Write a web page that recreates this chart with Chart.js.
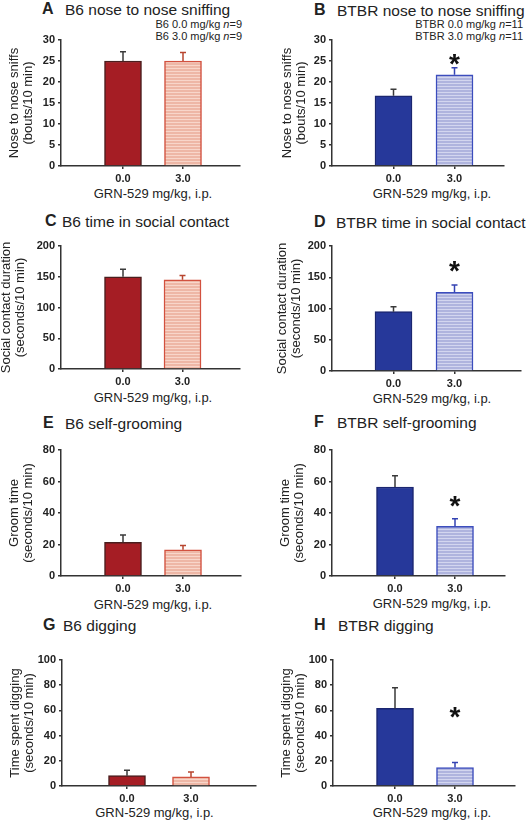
<!DOCTYPE html>
<html>
<head>
<meta charset="utf-8">
<script src="https://cdn.jsdelivr.net/npm/chart.js@4.4.1/dist/chart.umd.min.js"></script>
<style>
  body { margin: 0; background: #fff; }
  #fig { position: relative; width: 527px; height: 821px; font-family: "Liberation Sans", Arial, sans-serif; color: #222; }
  #fig canvas { position: absolute; }
  .lt { position: absolute; font-weight: bold; font-size: 16px; line-height: 16px; }
  .tt { position: absolute; font-size: 15.5px; line-height: 15.5px; white-space: nowrap; }
  .lg { position: absolute; font-size: 11px; line-height: 11.5px; text-align: right; white-space: nowrap; }
  .xt { position: absolute; font-size: 13px; line-height: 13px; width: 200px; text-align: center; white-space: nowrap; }
</style>
</head>
<body>
<div id="fig"></div>
<script>
const doses = ['0.0', '3.0'];

// nose to nose sniffing (bouts/10 min)
const sniffB6 = [25.0, 25.0];
const sniffB6Sem = [2.2, 2.0];
const sniffBTBR = [16.7, 21.7];
const sniffBTBRSem = [1.6, 1.7];

// social contact (seconds/10 min)
const contactB6 = [150, 145];
const contactB6Sem = [12, 7];
const contactBTBR = [95, 126];
const contactBTBRSem = [8, 11.6];

// self-grooming (seconds/10 min)
const groomB6 = [21.4, 16.6];
const groomB6Sem = [4.7, 2.7];
const groomBTBR = [56.5, 31.6];
const groomBTBRSem = [7.2, 4.7];

// digging (seconds/10 min)
const digB6 = [8.2, 7.2];
const digB6Sem = [4.3, 3.9];
const digBTBR = [61.6, 14.6];
const digBTBRSem = [16.4, 4.0];

// where the significance star sits (value on the y scale), second bar only
const starBTBR = { sniff: 26.0, contact: 172, groom: 49, dig: 60.5 };

const FONT = '"Liberation Sans", Arial, sans-serif';

function stripes(base, line) {
    const c = document.createElement('canvas');
    c.width = 4; c.height = 3;
    const g = c.getContext('2d');
    g.fillStyle = base; g.fillRect(0, 0, 4, 3);
    g.fillStyle = line; g.fillRect(0, 2, 4, 1);
    return g.createPattern(c, 'repeat');
}

const B6 = {
    fill: ['#a51d24', stripes('#eeb7a6', '#f8d6ca')],
    border: ['#4a1e1e', '#d2513f'],
    err: ['#3a3a3a', '#b8452f']
};
const BTBR = {
    fill: ['#26389a', stripes('#afb4de', '#d3d6ef')],
    border: ['#1b2670', '#3c4dbd'],
    err: ['#3a3a3a', '#3443b3']
};

function marks(values, sem, errColors, star) {
    return {
        id: 'marks',
        afterDatasetsDraw(chart) {
            const ctx = chart.ctx;
            const y = chart.scales.y;
            const bars = chart.getDatasetMeta(0).data;
            ctx.save();
            ctx.lineWidth = 1.5;
            bars.forEach((bar, i) => {
                const top = y.getPixelForValue(values[i] + sem[i]);
                ctx.strokeStyle = errColors[i];
                ctx.beginPath();
                ctx.moveTo(bar.x, bar.y);
                ctx.lineTo(bar.x, top);
                ctx.moveTo(bar.x - 3, top);
                ctx.lineTo(bar.x + 3, top);
                ctx.stroke();
            });
            if (star != null) {
                const b = bars[1];
                ctx.fillStyle = '#111';
                ctx.font = 'bold 28px ' + FONT;
                ctx.textAlign = 'center';
                ctx.textBaseline = 'alphabetic';
                ctx.fillText('*', b.x, y.getPixelForValue(star) + 16);
            }
            ctx.restore();
        }
    };
}

const rowTop = [0, 205, 410, 615];
const rowH = [205, 205, 205, 206];

const panels = [
    { letter: 'A', title: 'B6 nose to nose sniffing', col: 0, row: 0, values: sniffB6, sem: sniffB6Sem, style: B6,
      ymax: 30, step: 5, yTitle: ['Nose to nose sniffs', '(bouts/10 min)'],
      area: { left: 61, right: 240, top: 40, bottom: 166 }, c0: 123, c1: 183, yTitleX: 14,
      letterX: 42, titleX: 65, titleTop: 2, xTitleTop: 187, xTitleC: 153,
      legend: ['B6 0.0 mg/kg <i>n</i>=9', 'B6 3.0 mg/kg <i>n</i>=9'], legendR: 242 },
    { letter: 'B', title: 'BTBR nose to nose sniffing', col: 1, row: 0, values: sniffBTBR, sem: sniffBTBRSem, style: BTBR,
      ymax: 30, step: 5, yTitle: ['Nose to nose sniffs', '(bouts/10 min)'], star: starBTBR.sniff,
      area: { left: 332, right: 504, top: 40, bottom: 166 }, c0: 393.5, c1: 454.5, yTitleX: 287,
      letterX: 314, titleX: 337, titleTop: 3, xTitleTop: 187, xTitleC: 432,
      legend: ['BTBR 0.0 mg/kg <i>n</i>=11', 'BTBR 3.0 mg/kg <i>n</i>=11'], legendR: 523 },
    { letter: 'C', title: 'B6 time in social contact', col: 0, row: 1, values: contactB6, sem: contactB6Sem, style: B6,
      ymax: 200, step: 50, yTitle: ['Social contact duration', '(seconds/10 min)'],
      area: { left: 61, right: 240, top: 246, bottom: 369 }, c0: 123, c1: 182.5, yTitleX: 6,
      letterX: 45, titleX: 62, titleTop: 214, xTitleTop: 391, xTitleC: 153 },
    { letter: 'D', title: 'BTBR time in social contact', col: 1, row: 1, values: contactBTBR, sem: contactBTBRSem, style: BTBR,
      ymax: 200, step: 50, yTitle: ['Social contact duration', '(seconds/10 min)'], star: starBTBR.contact,
      area: { left: 332, right: 521, top: 246, bottom: 371 }, c0: 393.5, c1: 454.5, yTitleX: 282,
      letterX: 314, titleX: 336, titleTop: 215, xTitleTop: 392, xTitleC: 432 },
    { letter: 'E', title: 'B6 self-grooming', col: 0, row: 2, values: groomB6, sem: groomB6Sem, style: B6,
      ymax: 80, step: 20, yTitle: ['Groom time', '(seconds/10 min)'],
      area: { left: 61, right: 241, top: 450, bottom: 576 }, c0: 123, c1: 183, yTitleX: 14,
      letterX: 43, titleX: 65, titleTop: 416, xTitleTop: 598, xTitleC: 153 },
    { letter: 'F', title: 'BTBR self-grooming', col: 1, row: 2, values: groomBTBR, sem: groomBTBRSem, style: BTBR,
      ymax: 80, step: 20, yTitle: ['Groom time', '(seconds/10 min)'], star: starBTBR.groom,
      area: { left: 332, right: 505, top: 450, bottom: 576 }, c0: 395, c1: 455, yTitleX: 285,
      letterX: 314, titleX: 337, titleTop: 415, xTitleTop: 597, xTitleC: 432 },
    { letter: 'G', title: 'B6 digging', col: 0, row: 3, values: digB6, sem: digB6Sem, style: B6,
      ymax: 100, step: 20, yTitle: ['Time spent digging', '(seconds/10 min)'],
      area: { left: 62, right: 256, top: 660, bottom: 786 }, c0: 127, c1: 191, yTitleX: 15,
      letterX: 43, titleX: 63, titleTop: 618, xTitleTop: 806, xTitleC: 154.5 },
    { letter: 'H', title: 'BTBR digging', col: 1, row: 3, values: digBTBR, sem: digBTBRSem, style: BTBR,
      ymax: 100, step: 20, yTitle: ['Time spent digging', '(seconds/10 min)'], star: starBTBR.dig,
      area: { left: 333, right: 515, top: 660, bottom: 786 }, c0: 395, c1: 455, yTitleX: 286,
      letterX: 314, titleX: 338, titleTop: 618, xTitleTop: 806, xTitleC: 432 }
];

const fig = document.getElementById('fig');

function addDiv(cls, html, css) {
    const d = document.createElement('div');
    d.className = cls;
    d.innerHTML = html;
    Object.assign(d.style, css);
    fig.appendChild(d);
}

panels.forEach(p => {
    const x0 = p.col ? 264 : 0;
    const y0 = rowTop[p.row];
    const w = 263, h = rowH[p.row];
    const a = p.area;

    addDiv('lt', p.letter, { left: p.letterX + 'px', top: (p.titleTop - 1) + 'px' });
    addDiv('tt', p.title, { left: p.titleX + 'px', top: p.titleTop + 'px' });
    addDiv('xt', 'GRN-529 mg/kg, i.p.', { left: (p.xTitleC - 100) + 'px', top: p.xTitleTop + 'px' });
    if (p.legend) {
        addDiv('lg', p.legend.join('<br>'), { right: (527 - p.legendR) + 'px', top: '19px' });
    }

    const cv = document.createElement('canvas');
    cv.width = w; cv.height = h;
    cv.style.left = x0 + 'px';
    cv.style.top = y0 + 'px';
    fig.appendChild(cv);

    const span = p.c1 - p.c0;
    const tickFont = { family: FONT, size: 11, weight: 'bold' };
    const axisGrid = { display: true, drawOnChartArea: false, drawTicks: true, tickLength: 3, color: '#333', lineWidth: 1.5, offset: false };
    const axisBorder = { display: true, color: '#333', width: 1.5 };

    new Chart(cv, {
        type: 'bar',
        data: {
            datasets: [{
                data: p.values.map((v, i) => ({ x: i, y: v })),
                backgroundColor: p.style.fill,
                borderColor: p.style.border,
                borderWidth: 1.5,
                barThickness: 37
            }]
        },
        options: {
            responsive: false,
            animation: false,
            events: [],
            layout: { padding: { left: 0, top: a.top - y0, right: x0 + w - a.right, bottom: 0 } },
            plugins: { legend: { display: false }, tooltip: { enabled: false } },
            scales: {
                x: {
                    type: 'linear',
                    offset: false,
                    min: -(p.c0 - a.left) / span,
                    max: (a.right - p.c0) / span,
                    afterBuildTicks: s => { s.ticks = doses.map((d, i) => ({ value: i })); },
                    afterFit: s => { s.height = y0 + h - a.bottom; },
                    ticks: { callback: v => doses[v], font: tickFont, color: '#222', padding: 3, autoSkip: false, maxRotation: 0 },
                    grid: axisGrid,
                    border: axisBorder
                },
                y: {
                    min: 0,
                    max: p.ymax,
                    afterFit: s => { s.width = a.left - x0; },
                    ticks: { stepSize: p.step, font: tickFont, color: '#222', padding: 3 },
                    grid: axisGrid,
                    border: axisBorder,
                    title: {
                        display: true,
                        text: p.yTitle,
                        color: '#222',
                        font: { family: FONT, size: 13, lineHeight: 1.08 },
                        padding: { top: p.yTitleX - x0 - 7, bottom: 0 }
                    }
                }
            }
        },
        plugins: [marks(p.values, p.sem, p.style.err, p.star)]
    });
});
</script>
</body>
</html>
